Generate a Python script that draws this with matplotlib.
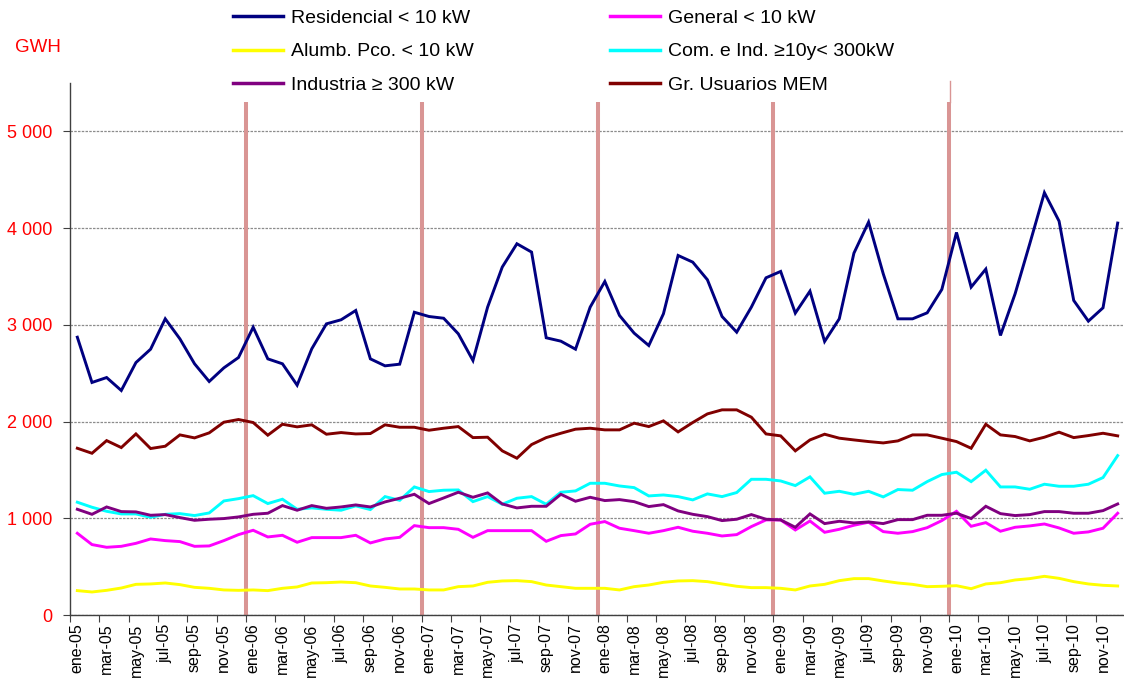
import matplotlib
matplotlib.use("Agg")
import matplotlib.pyplot as plt
import numpy as np

plt.rcParams['font.family'] = ['Liberation Sans', 'DejaVu Sans']

months_es = ["ene", "feb", "mar", "abr", "may", "jun", "jul", "ago", "sep", "oct", "nov", "dic"]
years = ["05", "06", "07", "08", "09", "10"]
categories = [f"{m}-{y}" for y in years for m in months_es]

residencial = [2872, 2404, 2455, 2321, 2610, 2748, 3062, 2855, 2597, 2414, 2555, 2662,
               2975, 2648, 2597, 2376, 2752, 3010, 3052, 3148, 2648, 2576, 2593, 3130,
               3086, 3068, 2907, 2631, 3183, 3597, 3838, 3752, 2866, 2831, 2748, 3183,
               3448, 3097, 2914, 2786, 3114, 3717, 3648, 3466, 3086, 2924, 3183, 3486,
               3552, 3121, 3348, 2828, 3062, 3741, 4062, 3528, 3062, 3062, 3124, 3366,
               3955, 3390, 3576, 2890, 3321, 3838, 4366, 4072, 3252, 3038, 3176, 4052]
general = [845, 728, 700, 710, 741, 786, 769, 759, 710, 714, 769, 831,
           876, 807, 824, 752, 800, 800, 800, 824, 745, 786, 803, 924,
           903, 903, 886, 803, 872, 872, 872, 872, 762, 821, 838, 938,
           966, 897, 872, 845, 872, 907, 866, 845, 817, 831, 914, 983,
           983, 879, 972, 855, 886, 928, 959, 862, 845, 862, 903, 976,
           1072, 917, 955, 866, 907, 921, 941, 900, 845, 859, 897, 1052]
alumbrado = [252, 238, 255, 279, 317, 321, 331, 314, 286, 276, 259, 255,
             259, 252, 276, 290, 331, 334, 341, 334, 300, 286, 269, 269,
             259, 259, 293, 300, 338, 352, 355, 345, 310, 293, 276, 276,
             276, 259, 293, 310, 338, 352, 355, 345, 321, 297, 283, 283,
             276, 259, 300, 317, 355, 376, 376, 352, 331, 317, 293, 297,
             303, 272, 321, 334, 362, 376, 400, 379, 345, 321, 307, 300]
comercial = [1166, 1114, 1072, 1045, 1045, 1010, 1041, 1048, 1028, 1055, 1179, 1203,
             1234, 1152, 1197, 1093, 1107, 1093, 1083, 1128, 1090, 1224, 1186, 1324,
             1276, 1290, 1293, 1172, 1224, 1145, 1207, 1224, 1145, 1269, 1283, 1362,
             1362, 1334, 1317, 1231, 1241, 1224, 1190, 1252, 1224, 1266, 1403, 1403,
             1386, 1338, 1428, 1259, 1279, 1248, 1279, 1221, 1297, 1290, 1379, 1452,
             1476, 1379, 1497, 1324, 1324, 1300, 1352, 1331, 1331, 1352, 1421, 1648]
industria = [1093, 1041, 1117, 1069, 1066, 1031, 1038, 1007, 979, 990, 997, 1014,
             1041, 1052, 1131, 1083, 1131, 1103, 1117, 1138, 1117, 1169, 1207, 1248,
             1152, 1210, 1269, 1217, 1262, 1148, 1107, 1124, 1124, 1248, 1176, 1217,
             1183, 1193, 1172, 1121, 1141, 1076, 1041, 1017, 976, 990, 1038, 990,
             983, 907, 1045, 945, 969, 952, 962, 945, 986, 986, 1031, 1031,
             1052, 997, 1124, 1048, 1028, 1038, 1069, 1069, 1052, 1052, 1079, 1148]
mem = [1724, 1672, 1803, 1731, 1872, 1721, 1745, 1862, 1831, 1883, 1993, 2021,
       1990, 1859, 1972, 1945, 1966, 1869, 1886, 1872, 1876, 1966, 1941, 1941,
       1910, 1931, 1948, 1834, 1838, 1697, 1621, 1762, 1834, 1879, 1921, 1931,
       1914, 1914, 1983, 1948, 2007, 1893, 1990, 2079, 2121, 2121, 2045, 1872,
       1852, 1697, 1810, 1869, 1828, 1810, 1793, 1779, 1800, 1862, 1862, 1828,
       1793, 1724, 1972, 1862, 1845, 1800, 1838, 1890, 1834, 1855, 1879, 1852]

series_labels = ["Residencial < 10 kW", "General < 10 kW", "Alumb. Pco. < 10 kW",
                 "Com. e Ind. \u226510y< 300kW", "Industria \u2265 300 kW", "Gr. Usuarios MEM"]
series_colors = ["#000080", "#FF00FF", "#FFFF00", "#00FFFF", "#800080", "#800000"]
series_values = [residencial, general, alumbrado, comercial, industria, mem]

yticks = [0, 1000, 2000, 3000, 4000, 5000]
ytick_labels = ["0", "1 000", "2 000", "3 000", "4 000", "5 000"]
year_marks = ["ene-06", "ene-07", "ene-08", "ene-09", "ene-10"]

W, H = 1124, 680
fig = plt.figure(figsize=(W / 100, H / 100), dpi=100)
ax = fig.add_axes([70 / W, (H - 615) / H, (1125 - 70) / W, (615 - 83) / H])

n = len(categories)
x = np.arange(n) + 0.5

# year separator bars
for lab in year_marks:
    xb = categories.index(lab)
    ax.plot([xb, xb], [0, 5300], color="#D99594", lw=2.9, zorder=1, solid_capstyle="butt")
xl = categories.index(year_marks[-1])
ax.plot([xl + 0.05, xl + 0.05], [5300, 5520], color="#D99594", lw=1.0, zorder=1, clip_on=False)

handles = {}
for lab, col, vals in zip(series_labels, series_colors, series_values):
    h, = ax.plot(x, vals, color=col, lw=2.1, zorder=3, solid_joinstyle="miter")
    handles[lab] = h

ax.set_xlim(0, n)
ax.set_ylim(0, 5500)

ax.set_yticks(yticks)
ax.set_yticklabels(ytick_labels, color="#FF0000", fontsize=13)
ax.yaxis.grid(True, color="#8C8C8C", linestyle=(0, (2, 1)), linewidth=0.9)
ax.set_axisbelow(True)

ax.set_xticks(np.arange(0, n + 1, 2))
ax.set_xticklabels([])
ax.set_xticks(x[::2], minor=True)
ax.set_xticklabels(categories[::2], minor=True, rotation=90, fontsize=11.5)
ax.tick_params(axis="x", which="minor", length=0, pad=6)
ax.tick_params(axis="x", which="major", length=5, color="#404040", direction="out")
ax.tick_params(axis="y", length=5, color="#404040", direction="out", pad=8)

for s in ["top", "right"]:
    ax.spines[s].set_visible(False)
for s in ["left", "bottom"]:
    ax.spines[s].set_color("#404040")
    ax.spines[s].set_linewidth(1.0)

fig.text(38 / W, 1 - 48 / H, "GWH", color="#FF0000", fontsize=13.5, ha="center", va="center")

leg_kw = dict(frameon=False, fontsize=14, handlelength=2.57, handletextpad=0.41,
              labelspacing=0.83, borderpad=0, borderaxespad=0, loc="upper left")
col1 = [series_labels[0], series_labels[2], series_labels[4]]
col2 = [series_labels[1], series_labels[3], series_labels[5]]
leg1 = fig.legend([handles[l] for l in col1], col1, bbox_to_anchor=(233 / W, 1 - 9 / H), **leg_kw)
leg2 = fig.legend([handles[l] for l in col2], col2, bbox_to_anchor=(610 / W, 1 - 9 / H), **leg_kw)
for leg in (leg1, leg2):
    for ln in leg.get_lines():
        ln.set_linewidth(2.5)

fig.savefig("out.png", dpi=100)
